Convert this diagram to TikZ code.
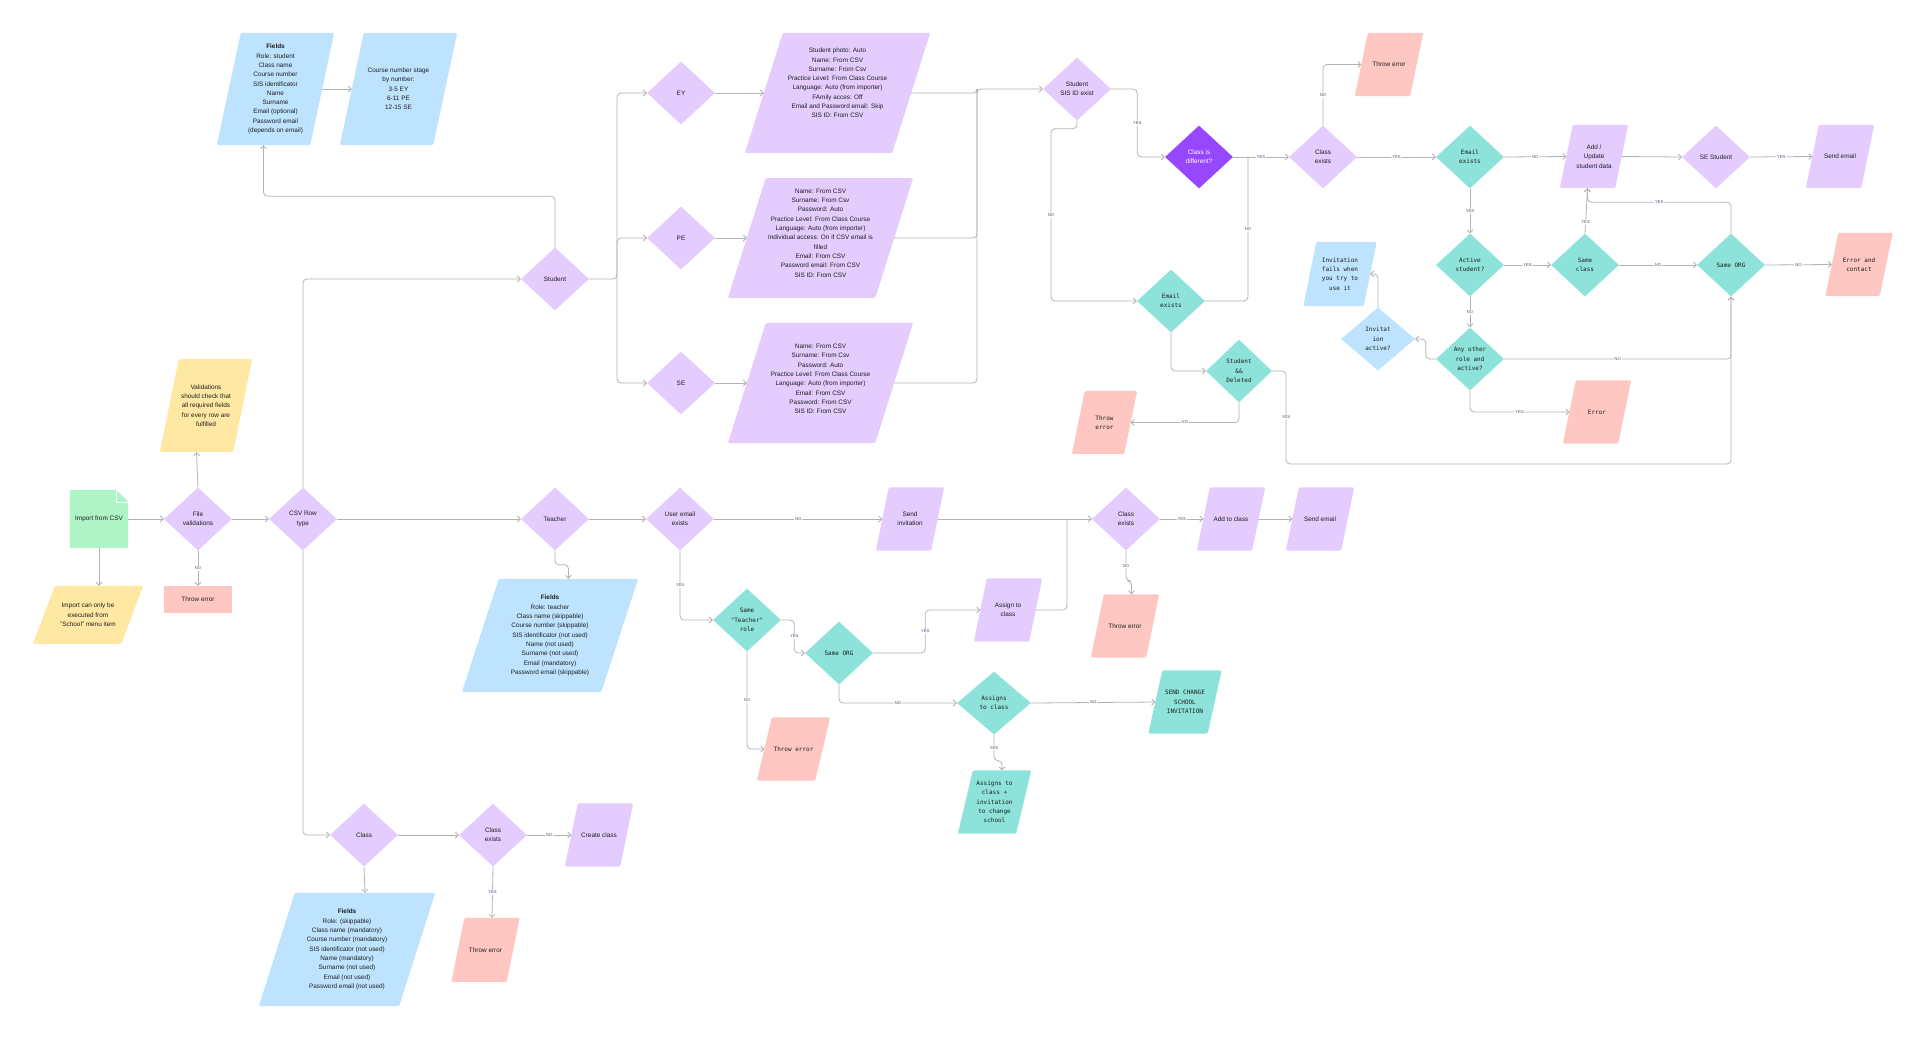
\documentclass[tikz,border=0pt]{standalone}
\usepackage{fontspec}
\setmainfont{Liberation Sans}
\newfontfamily\monof{DejaVu Sans Mono}
\usetikzlibrary{arrows.meta, shapes.geometric, backgrounds}
\definecolor{fpurple}{HTML}{E4CCFF}
\definecolor{fviolet}{HTML}{9747FF}
\definecolor{fteal}{HTML}{8DE3D9}
\definecolor{fblue}{HTML}{BDE3FF}
\definecolor{fpink}{HTML}{FFC7C2}
\definecolor{fyellow}{HTML}{FFE8A3}
\definecolor{fgreen}{HTML}{AFF4C6}
\definecolor{fline}{HTML}{B3B3B3}
\definecolor{ftext}{HTML}{1E1E1E}
\definecolor{flabel}{HTML}{5B4A7A}
\newcommand\sz{\fontsize{6.4}{9.3}\selectfont}
\newcommand\monosz{\monof\fontsize{6}{9.3}\selectfont}
\tikzset{
  every picture/.style={line cap=round, line join=round},
  % decision diamonds and data boxes (the slanted fill is drawn later)
  dec/.style={diamond, aspect=1.08, inner sep=0pt, minimum width=68, minimum height=63,
    align=center, font=\sz, text=ftext},
  io/.style={rectangle, inner sep=0pt, minimum width=55, minimum height=63,
    align=center, font=\sz, text=ftext},
  mtext/.style={font=\monosz},
  conn/.style={fline, line width=0.8pt, rounded corners=4pt, -{Straight Barb[length=3pt, width=6pt]}},
  lbl/.style={fill=white, inner sep=1pt, font=\fontsize{4.2}{4.5}\selectfont, text=flabel},
}

\begin{document}
\begin{tikzpicture}[x=1pt, y=-1pt]
  \useasboundingbox (0,0) rectangle (1926,1039);
  % entry and row type
  \node[io, minimum width=58, minimum height=58] (importcsv) at (99,519) {Import from CSV};
  \node[io, minimum width=88, minimum height=58] (note) at (88,615) {Import can only be\\executed from\\"School" menu item};
  \node[dec, fill=fpurple] (filev) at (198,519) {File\\validations};
  \node[io, minimum width=73, minimum height=93] (valid) at (206,405.5) {Validations\\should check that\\all required fields\\for every row are\\fulfilled};
  \node[io, fill=fpink, minimum width=68, minimum height=27] (throwf) at (198,599.5) {Throw error};
  \node[dec, fill=fpurple] (csvrow) at (303,519) {CSV Row\\type};

  % student rows
  \node[dec, fill=fpurple] (student) at (555,279) {Student};
  \node[io, minimum width=93, minimum height=112] (fstud) at (275.5,89) {\textbf{Fields}\\Role: student\\Class name\\Course number\\SIS identificator\\Name\\Surname\\Email (optional)\\Password email\\(depends on email)};
  \node[io, minimum width=93, minimum height=112] (stage) at (398.5,89) {Course number stage\\by number:\\3-5 EY\\6-11 PE\\12-15 SE};
  \node[dec, fill=fpurple] (ey) at (681,93) {EY};
  \node[dec, fill=fpurple] (pe) at (681,238) {PE};
  \node[dec, fill=fpurple] (se) at (681,383) {SE};
  \node[io, minimum width=147, minimum height=120] (eyinfo) at (837.5,93) {Student photo: Auto\\Name: From CSV\\Surname: From Csv\\Practice Level: From Class Course\\Language: Auto (from importer)\\FAmily acces: Off\\Email and Password email: Skip\\SIS ID: From CSV\\[10.7pt]\mbox{}};
  \node[io, minimum width=147, minimum height=120] (peinfo) at (820.5,238) {Name: From CSV\\Surname: From Csv\\Password: Auto\\Practice Level: From Class Course\\Language: Auto (from importer)\\Individual access: On if CSV email is\\filled\\Email: From CSV\\Password email: From CSV\\SIS ID: From CSV\\[0.7pt]\mbox{}};
  \node[io, minimum width=147, minimum height=120] (seinfo) at (820.5,383) {Name: From CSV\\Surname: From Csv\\Password: Auto\\Practice Level: From Class Course\\Language: Auto (from importer)\\Email: From CSV\\Password: From CSV\\SIS ID: From CSV\\[-1.3pt]\mbox{}};
  \node[dec, fill=fpurple] (sisid) at (1077,89) {Student\\SIS ID exist};
  \node[dec, fill=fviolet, text=white] (classdiff) at (1199,157) {Class is\\different?};
  \node[dec, fill=fpurple] (clexa) at (1323,157) {Class\\exists};
  \node[io] (throwa) at (1389,64.5) {Throw error};
  \node[dec, mtext, fill=fteal] (emaila) at (1470,157) {Email\\exists};
  \node[io] (update) at (1594,156.5) {Add /\\Update\\student data};
  \node[dec, fill=fpurple] (sestud) at (1716,157) {SE Student};
  \node[io] (sendstud) at (1840,156.5) {Send email};
  \node[dec, mtext, fill=fteal] (active) at (1470,265) {Active\\student?};
  \node[dec, mtext, fill=fteal] (sameclass) at (1585,265) {Same\\class};
  \node[dec, mtext, fill=fteal] (sameorga) at (1731,265) {Same ORG};
  \node[io, mtext, minimum width=54] (errcontact) at (1859,264.5) {Error and\\contact};
  \node[dec, mtext, fill=fteal] (anyrole) at (1470,359) {Any other\\role and\\active?};
  \node[dec, mtext, fill=fblue, minimum width=74] (invact) at (1378,339) {Invitat\\ion\\active?};
  \node[io, mtext, minimum width=60, minimum height=64] (invfail) at (1340,274) {Invitation\\fails when\\you try to\\use it};
  \node[io, mtext] (error) at (1597,412) {Error};
  \node[dec, mtext, fill=fteal] (emailb) at (1171,301) {Email\\exists};
  \node[dec, mtext, fill=fteal, minimum width=66] (deleted) at (1239,371) {Student\\\&\&\\Deleted};
  \node[io, mtext, minimum width=52] (throwb) at (1104.5,422.5) {Throw\\error};

  % teacher row
  \node[dec, fill=fpurple] (teacher) at (555,519) {Teacher};
  \node[dec, fill=fpurple] (useremail) at (680,519) {User email\\exists};
  \node[io] (sendinv) at (910,519) {Send\\invitation};
  \node[io, minimum width=139, minimum height=113] (fteach) at (550,635.5) {\textbf{Fields}\\Role: teacher\\Class name (skippable)\\Course number (skippable)\\SIS identificator (not used)\\Name (not used)\\Surname (not used)\\Email (mandatory)\\Password email (skippable)};
  \node[dec, mtext, fill=fteal] (sameteach) at (747,620) {Same\\"Teacher"\\role};
  \node[dec, mtext, fill=fteal] (sameorgb) at (839,653) {Same ORG};
  \node[io] (assign) at (1008,610) {Assign to\\class};
  \node[dec, fill=fpurple] (clexb) at (1126,519) {Class\\exists};
  \node[io] (addclass) at (1231,519) {Add to class};
  \node[io] (sendteach) at (1320,519) {Send email};
  \node[io] (throwc) at (1125,626) {Throw error};
  \node[io, mtext, minimum width=58] (throwd) at (793.5,749) {Throw error};
  \node[dec, mtext, fill=fteal, minimum width=74] (assigns) at (994,703) {Assigns\\to class};
  \node[io, mtext, minimum width=59] (sendchange) at (1185,702) {SEND CHANGE\\SCHOOL\\INVITATION};
  \node[io, mtext, minimum width=58] (assigninv) at (994.5,802) {Assigns to\\class +\\invitation\\to change\\school};

  % class row
  \node[dec, fill=fpurple] (class) at (364,835) {Class};
  \node[dec, fill=fpurple] (clexc) at (493,835) {Class\\exists};
  \node[io] (createclass) at (599,835) {Create class};
  \node[io, minimum height=64] (throwe) at (485.5,950) {Throw error};
  \node[io, minimum width=140, minimum height=113] (fclass) at (347,949.5) {\textbf{Fields}\\Role: (skippable)\\Class name (mandatory)\\Course number (mandatory)\\SIS identificator (not used)\\Name (mandatory)\\Surname (not used)\\Email (not used)\\Password email (not used)};

  % slanted box fills: node / half slant / colour
  \begin{scope}[on background layer]
    \foreach \n/\s/\c in {fstud/12/fblue, stage/12/fblue, valid/9.5/fyellow, note/11/fyellow,
                          eyinfo/19/fpurple, peinfo/19/fpurple, seinfo/19/fpurple,
                          throwa/6.5/fpink, update/6.5/fpurple, sendstud/6.5/fpurple,
                          errcontact/6.5/fpink, invfail/6.5/fblue, error/6.5/fpink, throwb/6.5/fpink,
                          sendinv/6.5/fpurple, assign/6.5/fpurple, addclass/6.5/fpurple,
                          sendteach/6.5/fpurple, throwc/6.5/fpink, throwd/7.5/fpink,
                          sendchange/7/fteal, assigninv/7.5/fteal, fteach/18.5/fblue,
                          createclass/6.5/fpurple, throwe/6.5/fpink, fclass/18/fblue}
      \fill[\c, rounded corners=1.5pt] ([xshift=\s pt]\n.north west) -- ([xshift=\s pt]\n.north east)
        -- ([xshift=-\s pt]\n.south east) -- ([xshift=-\s pt]\n.south west) -- cycle;
    \fill[fgreen] (importcsv.south west) -- (importcsv.north west) -- ([xshift=-12pt]importcsv.north east)
      -- ([yshift=-12pt]importcsv.north east) -- (importcsv.south east) -- cycle;
    \draw[white, line width=0.6pt] ([xshift=-12pt]importcsv.north east) |- ([yshift=-12pt]importcsv.north east);
  \end{scope}

  % entry connectors
  \draw[conn] (importcsv.east) -- (filev.west);
  \draw[conn] (importcsv.south) -- ([xshift=11pt]note.north);
  \draw[conn] (filev.north) -- ([xshift=-9.5pt]valid.south);
  \draw[conn] (filev.south) -- node[lbl] (n1) {NO} (throwf.north);
  \draw[conn] (filev.east) -- (csvrow.west);
  \draw[conn] (csvrow.east) -- (teacher.west);
  \draw[conn] (csvrow.north) |- (student.west);
  \draw[conn] (csvrow.south) |- (class.west);

  % student branch
  \draw[conn] (student.north) |- ([xshift=-12pt, yshift=-51pt]fstud.south) -- ([xshift=-12pt]fstud.south);
  \draw[conn] (fstud.east) -- (stage.west);
  \coordinate (sfork) at (617,279);
  \coordinate (smerge) at (977,89);
  \draw[conn] (student.east) -- (sfork) |- (ey.west);
  \draw[conn] (sfork) |- (pe.west);
  \draw[conn] (sfork) |- (se.west);
  \draw[conn] (ey.east) -- (eyinfo.west);
  \draw[conn] (pe.east) -- (peinfo.west);
  \draw[conn] (se.east) -- (seinfo.west);
  \draw[conn] (eyinfo.east) -| (smerge) -- (sisid.west);
  \draw[conn, -] (peinfo.east) -| (smerge);
  \draw[conn, -] (seinfo.east) -| (smerge);
  \draw[conn] (sisid.east) -- ++(26,0) |- node[lbl, pos=0.25] (y1) {YES} (classdiff.west);
  \draw[conn] (sisid.south) |- ++(-26,8) |- node[lbl, pos=0.25] (n2) {NO} (emailb.west);
  \draw[conn] (classdiff.east) -- node[lbl] (y2) {YES} (clexa.west);
  \coordinate (cjoin) at (1248,157);
  \draw[conn, -] (emailb.east) -| node[lbl, pos=0.75] (n3) {NO} (cjoin);
  \draw[conn] (clexa.north) |- node[lbl, pos=0.25] (n4) {NO} (throwa.west);
  \draw[conn] (clexa.east) -- node[lbl] (y3) {YES} (emaila.west);
  \draw[conn] (emaila.east) -- node[lbl] (n5) {NO} (update.west);
  \draw[conn] (update.east) -- (sestud.west);
  \draw[conn] (sestud.east) -- node[lbl] (y4) {YES} (sendstud.west);
  \draw[conn] (emaila.south) -- node[lbl] (y5) {YES} (active.north);
  \draw[conn] (active.east) -- node[lbl] (y6) {YES} (sameclass.west);
  \draw[conn] (sameclass.east) -- node[lbl] (n6) {NO} (sameorga.west);
  \draw[conn] (sameorga.east) -- node[lbl] (n7) {NO} (errcontact.west);
  \draw[conn] (sameclass.north) -- node[lbl, pos=0.25] (y7) {YES} ([xshift=-6.5pt]update.south);
  \draw[conn] (sameorga.north) |- node[lbl, pos=0.75] (y8) {YES} ([xshift=-6.5pt, yshift=-14pt]update.south) -- ([xshift=-6.5pt]update.south);
  \draw[conn] (active.south) -- node[lbl] (n8) {NO} (anyrole.north);
  \draw[conn] (anyrole.west) -- ++(-10,0) |- (invact.east);
  \draw[conn] (invact.north) |- (invfail.east);
  \draw[conn] (anyrole.south) |- node[lbl, pos=0.75] (y9) {YES} (error.west);
  \draw[conn] (anyrole.east) -| node[lbl, pos=0.25] (n9) {NO} (sameorga.south);
  \draw[conn] (emailb.south) |- (deleted.west);
  \draw[conn] (deleted.south) |- node[lbl, pos=0.75] (n10) {NO} (throwb.east);
  \coordinate (dloop) at (1286,464);
  \draw[conn] (deleted.east) -| node[lbl, pos=0.75] (y10) {YES} (dloop) -| (sameorga.south);

  % teacher branch
  \draw[conn] (teacher.east) -- (useremail.west);
  \draw[conn] (teacher.south) -- ++(0,14) -| ([xshift=18.5pt]fteach.north);
  \draw[conn] (useremail.east) -- node[lbl] (n11) {NO} (sendinv.west);
  \draw[conn] (sendinv.east) -- (clexb.west);
  \draw[conn] (useremail.south) |- node[lbl, pos=0.25] (y11) {YES} (sameteach.west);
  \draw[conn] (sameteach.east) -- ++(13,0) |- node[lbl, pos=0.25] (y12) {YES} (sameorgb.west);
  \draw[conn] (sameteach.south) |- node[lbl, pos=0.25] (n12) {NO} (throwd.west);
  \draw[conn] (sameorgb.east) -- ++(52,0) |- node[lbl, pos=0.25] (y13) {YES} (assign.west);
  \draw[conn] (sameorgb.south) |- node[lbl, pos=0.75] (n13) {NO} (assigns.west);
  \coordinate (tjoin) at (1067,519);
  \draw[conn, -] (assign.east) -| (tjoin);
  \draw[conn] (clexb.east) -- node[lbl] (y14) {YES} (addclass.west);
  \draw[conn] (addclass.east) -- (sendteach.west);
  \draw[conn] (clexb.south) -- node[lbl] (n14) {NO} ++(0,30) -| ([xshift=6.5pt]throwc.north);
  \draw[conn] (assigns.east) -- node[lbl] (n15) {NO} (sendchange.west);
  \draw[conn] (assigns.south) -- node[lbl] (y15) {YES} ++(0,26) -| ([xshift=7.5pt]assigninv.north);

  % class branch
  \draw[conn] (class.east) -- (clexc.west);
  \draw[conn] (class.south) -- ([xshift=18pt]fclass.north);
  \draw[conn] (clexc.east) -- node[lbl] (n16) {NO} (createclass.west);
  \draw[conn] (clexc.south) -- node[lbl] (y16) {YES} ([xshift=6.5pt]throwe.north);
\end{tikzpicture}
\end{document}
